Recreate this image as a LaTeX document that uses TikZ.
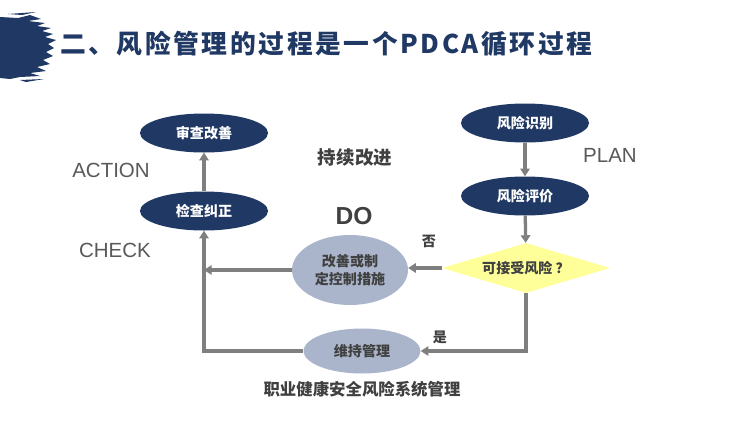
\documentclass[tikz,border=0pt]{standalone}
\usepackage{fontspec}
\setmainfont{Liberation Sans}
\newfontfamily\cjk{Noto Sans CJK SC}
\newfontfamily\titlefont[LetterSpace=10]{Noto Sans CJK SC}
\usetikzlibrary{shapes.geometric,arrows.meta}
\definecolor{navy}{HTML}{1F3864}
\definecolor{mist}{HTML}{AAB5CB}
\definecolor{lemon}{HTML}{FFFF99}
\definecolor{flowgray}{HTML}{7F7F7F}
\definecolor{ink}{HTML}{404040}
\definecolor{phase}{HTML}{595959}
\tikzset{
	darkstep/.style={ellipse,fill=navy,text=white,inner sep=0pt,minimum width=3.84cm,minimum height=1.17cm,font=\cjk\bfseries\fontsize{12}{14}\selectfont},
	lightstep/.style={ellipse,fill=mist,text=ink,inner sep=0pt,align=center,font=\cjk\bfseries\fontsize{12}{15.5}\selectfont},
	question/.style={diamond,aspect=3.36,fill=lemon,text=ink,inner sep=0pt,minimum width=5.04cm,minimum height=1.5cm,font=\cjk\bfseries\fontsize{12}{14}\selectfont},
	phasename/.style={text=phase,font=\fontsize{17.5}{20}\selectfont},
	note/.style={text=ink,font=\cjk\bfseries\fontsize{12}{14}\selectfont},
	flow/.style={draw=flowgray,line width=2.8pt,-{Triangle[length=6.5pt,width=8pt]}}
}
\begin{document}
\begin{tikzpicture}[x=0.03cm,y=-0.03cm]
	\useasboundingbox (0,0) rectangle (750,421);

	%Title with brush mark
	\fill [navy] (0,17) -- (18,18) -- (30,15) -- (41,19) -- (28,21) -- (45,23) -- (37,26) -- (51,28) -- (42,31) -- (53,34) -- (45,37) -- (56,40) -- (48,44) -- (54,48) -- (46,52) -- (53,56) -- (43,60) -- (50,64) -- (37,67) -- (46,71) -- (30,73) -- (40,76) -- (20,77) -- (10,79) -- (0,78) -- cycle;
	\fill [navy] (8,14) -- (36,12) -- (22,15) -- cycle;
	\fill [navy] (20,80) -- (44,79) -- (26,82) -- cycle;
	\node [anchor=west,text=navy,inner sep=0pt] (title) at (60,44) {\titlefont\bfseries\fontsize{22}{26}\selectfont 二、风险管理的过程是一个PDCA循环过程};

	%Plan
	\node [darkstep] (ident) at (525,123) {风险识别};
	\node [darkstep] (eval) at (525,196) {风险评价};
	\node [question] (accept) at (526,268) {可接受风险 ？};
	\node [phasename] (plan) at (610,155) {PLAN};

	%Do
	\node [lightstep,minimum width=3.48cm,minimum height=2.1cm] (improve) at (350,270) {改善或制\\定控制措施};
	\node [lightstep,minimum width=3.51cm,minimum height=1.35cm] (keep) at (362,351) {维持管理};
	\node [text=ink,font=\bfseries\fontsize{21}{24}\selectfont] (do) at (354,216) {DO};
	\node [note] (no) at (429,241) {否};
	\node [note] (yes) at (440,337) {是};

	%Check and action
	\node [darkstep] (check) at (204,211) {检查纠正};
	\node [darkstep] (review) at (204,133) {审查改善};
	\node [phasename] (action) at (111,170) {ACTION};
	\node [phasename] (checkname) at (115,250) {CHECK};

	\node [text=ink,font=\cjk\bfseries\fontsize{15.8}{18}\selectfont] (cycle) at (355,157) {持续改进};
	\node [text=ink,font=\cjk\bfseries\fontsize{14}{16}\selectfont] (system) at (362,389) {职业健康安全风险系统管理};

	%Connectors
	\draw [flow] (ident) -- (eval);
	\draw [flow] (eval) -- (accept);
	\draw [flow] (accept.west) -- (accept.west -| improve.east);
	\draw [flow] (improve.west) -- (improve.west -| check.south);
	\draw [flow] (accept.south) |- (keep.east);
	\draw [flow] (keep.west) -| (check.south);
	\draw [flow] (check) -- (review);
\end{tikzpicture}
\end{document}
